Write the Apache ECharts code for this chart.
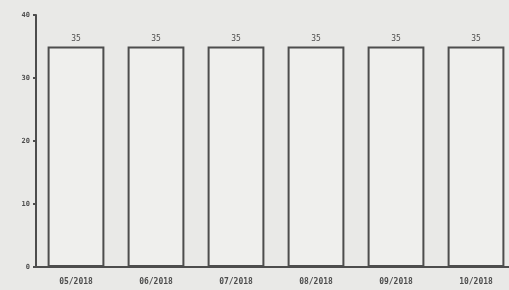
<!DOCTYPE html>
<html>
<head>
<meta charset="utf-8">
<script src="https://cdn.jsdelivr.net/npm/echarts@6/dist/echarts.min.js"></script>
<style>
  html, body { margin: 0; padding: 0; background: #e9e9e7; }
  #chart { width: 509px; height: 290px; }
</style>
</head>
<body>
<div id="chart"></div>
<script>
// months and counts
const months = ['05/2018', '06/2018', '07/2018', '08/2018', '09/2018', '10/2018']
const counts = [35, 35, 35, 35, 35, 35]
const yTicks = [0, 10, 20, 30, 40]

const ink = '#4d4d4d'
const mono = 'DejaVu Sans Mono'

const initChart = () => {
    const myChart = echarts.init(document.getElementById('chart'))

    myChart.setOption({
        backgroundColor: '#e9e9e7',
        animation: false,
        grid: { left: 36, top: 15, width: 480, height: 252, outerBoundsMode: 'none' },
        xAxis: {
            type: 'category',
            data: months,
            axisLine: { lineStyle: { color: ink, width: 2 } },
            axisTick: { show: false },
            axisLabel: { color: ink, fontFamily: mono, fontSize: 8, fontWeight: 'bold', margin: 11 }
        },
        yAxis: {
            type: 'value',
            min: yTicks[0],
            max: yTicks[yTicks.length - 1],
            interval: 10,
            splitLine: { show: false },
            axisLine: { show: true, lineStyle: { color: ink, width: 2 } },
            axisTick: { show: true, length: 3, lineStyle: { color: ink, width: 2 } },
            axisLabel: { color: ink, fontFamily: mono, fontSize: 7, fontWeight: 'bold', margin: 6 }
        },
        series: [{
            type: 'bar',
            data: counts,
            barWidth: '71%',
            itemStyle: { color: '#efefed', borderColor: ink, borderWidth: 2 },
            label: { show: true, position: 'top', distance: 4, color: ink, fontFamily: mono, fontSize: 8 }
        }]
    })
}

window.addEventListener('load', () => {
    initChart()
})
</script>
</body>
</html>
